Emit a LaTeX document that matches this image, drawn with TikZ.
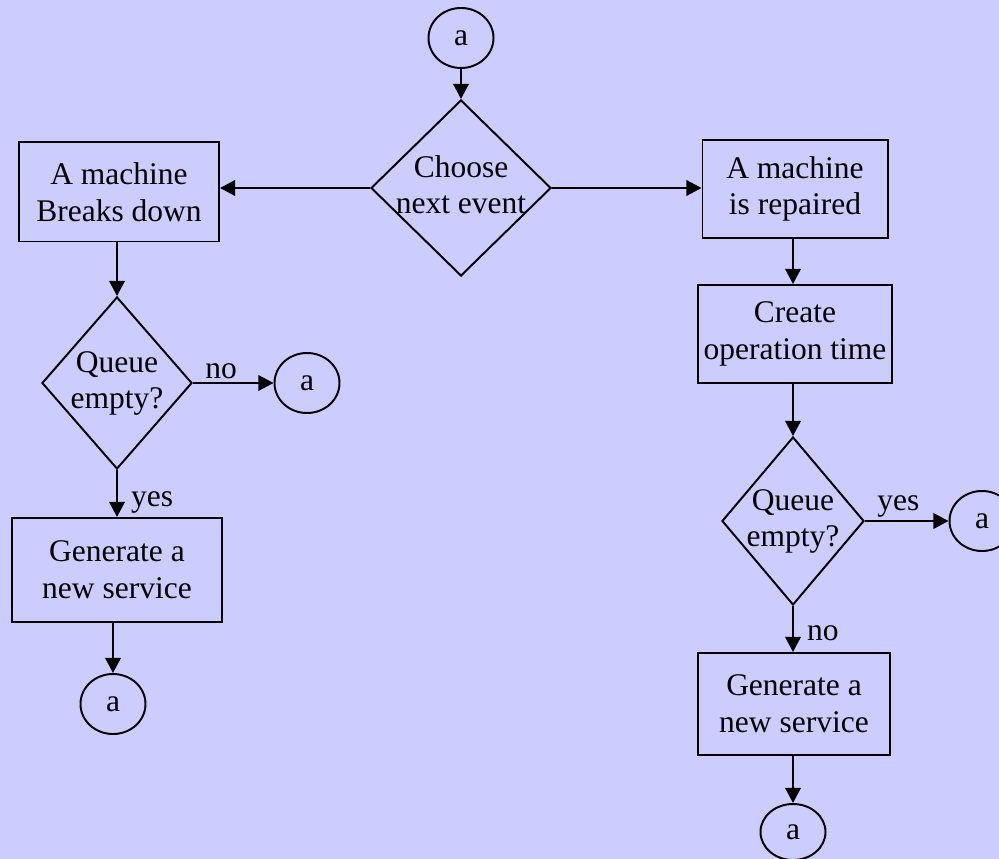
\documentclass[tikz,border=0pt]{standalone}
\usepackage{fontspec}
\setmainfont{Liberation Serif}
\usetikzlibrary{shapes.geometric,arrows.meta}
\definecolor{bgblue}{HTML}{CCCCFF}
\begin{document}
\begin{tikzpicture}[x=0.025cm,y=-0.025cm,
    every node/.style={font=\fontsize{22.4}{26}\selectfont},
    box/.style={draw,line width=1.4pt,align=center,inner sep=0pt},
    decision/.style={draw,diamond,line width=1.4pt,inner sep=0pt},
    conn/.style={draw,ellipse,line width=1.4pt,minimum width=1.625cm,minimum height=1.5cm,inner sep=0pt},
    arr/.style={line width=1.4pt,-{Triangle[length=3.8mm,width=3.9mm]}}]
    \useasboundingbox (0,0) rectangle (999,859);
    \fill[bgblue] (0,0) rectangle (999,859);
            % middle
            \node[conn] (top) at (461,38) {a};
            \node[decision,minimum width=4.5cm,minimum height=4.4cm,label={center:{\begin{tabular}{@{}c@{}}Choose\\next event\end{tabular}}}] (choose) at (461,188) {};
            \draw[arr] (top) -- (choose);
            % left branch
            \node[box,minimum width=5cm,minimum height=2.475cm] (breaks) at (119,192) {A machine\\Breaks down};
            \node[decision,minimum width=3.75cm,minimum height=4.3cm,label={center:{\begin{tabular}{@{}c@{}}Queue\\empty?\end{tabular}}}] (qleft) at (117,383) {};
            \node[conn] (aleft) at (307,383) {a};
            \node[box,minimum width=5.225cm,minimum height=2.6cm] (genleft) at (117,570) {Generate a\\new service};
            \node[conn] (abottom) at (113,704) {a};
            \draw[arr] (choose.west) -- (choose.west -| breaks.east);
            \draw[arr] (breaks.south -| qleft.north) -- (qleft.north);
            \draw[arr] (qleft.east) -- (aleft.west) node[pos=0.35,above,inner sep=2pt] {no};
            \draw[arr] (qleft.south) -- (genleft.north) node[pos=0.7,right,xshift=6pt] {yes};
            \draw[arr] (genleft.south -| abottom.north) -- (abottom.north);
            % right branch
            \node[box,minimum width=4.625cm,minimum height=2.45cm] (repaired) at (795,189) {A machine\\is repaired};
            \node[box,minimum width=4.85cm,minimum height=2.45cm] (create) at (795,334) {Create\\operation time};
            \node[decision,minimum width=3.55cm,minimum height=4.2cm,label={center:{\begin{tabular}{@{}c@{}}Queue\\empty?\end{tabular}}}] (qright) at (793,521) {};
            \node[conn] (aright) at (982,521) {a};
            \node[box,minimum width=4.8cm,minimum height=2.55cm] (genright) at (794,704) {Generate a\\new service};
            \node[conn,minimum height=1.4cm] (aend) at (793,832) {a};
            \draw[arr] (choose.east) -- (choose.east -| repaired.west);
            \draw[arr] (repaired.south -| qright.north) -- (create.north -| qright.north);
            \draw[arr] (create.south -| qright.north) -- (qright.north);
            \draw[arr] (qright.east) -- (aright.west) node[pos=0.4,above,inner sep=2pt] {yes};
            \draw[arr] (qright.south) -- (genright.north -| qright.south) node[pos=0.6,right,xshift=6pt] {no};
            \draw[arr] (genright.south -| aend.north) -- (aend.north);
\end{tikzpicture}
\end{document}
